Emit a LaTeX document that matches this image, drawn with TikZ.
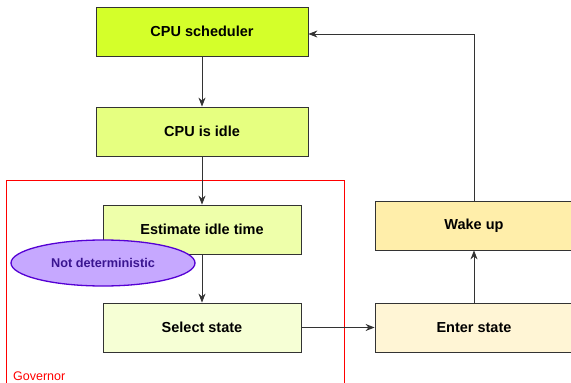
\documentclass[tikz,border=0pt]{standalone}
\usepackage{fontspec}
\setmainfont{Liberation Sans}
\usetikzlibrary{arrows.meta,shapes.geometric}
\definecolor{c1}{HTML}{D4FF2A}
\definecolor{c2}{HTML}{E6FF80}
\definecolor{c3}{HTML}{EEFFAA}
\definecolor{c4}{HTML}{F6FFD5}
\definecolor{c5}{HTML}{FFF5D5}
\definecolor{c6}{HTML}{FFEEAA}
\definecolor{ellfill}{HTML}{C6A8FF}
\definecolor{elldraw}{HTML}{5500D4}
\definecolor{elltext}{HTML}{3A1590}
\definecolor{govred}{HTML}{FF0000}
\definecolor{edge}{HTML}{333333}
\tikzset{
  box/.style={draw=edge, line width=0.8pt, minimum height=49pt, inner sep=0pt,
    font=\fontsize{14.5}{17}\selectfont\bfseries, text=black},
  conn/.style={draw=black!80, line width=0.9pt, -{Stealth[length=9pt,width=7pt]}},
}
\begin{document}
\begin{tikzpicture}[x=1pt,y=-1pt]
\useasboundingbox (0,0) rectangle (571,383);
\fill[white] (0,0) rectangle (571,383);
% governor frame
\draw[govred, line width=0.8pt] (6,395) -- (6,180) -- (344,180) -- (344,395);
\node[anchor=west, text=govred, font=\fontsize{12.5}{14}\selectfont, inner sep=0pt] (gov) at (13,376) {Governor};
% boxes
\node[box, fill=c1, minimum width=212pt] (sched) at (202,31.5) {CPU scheduler};
\node[box, fill=c2, minimum width=212pt] (idle) at (202,131.5) {CPU is idle};
\node[box, fill=c3, minimum width=198pt] (est) at (202,229.5) {Estimate idle time};
\node[box, fill=c4, minimum width=198pt] (sel) at (202,327.5) {Select state};
\node[box, fill=c5, minimum width=198pt] (enter) at (474,327.5) {Enter state};
\node[box, fill=c6, minimum width=198pt] (wake) at (474,225.5) {Wake up};
% ellipse
\node[ellipse, draw=elldraw, line width=1.3pt, fill=ellfill, minimum width=184pt, minimum height=46pt, inner sep=0pt,
  text=elltext, font=\fontsize{12.7}{15}\selectfont\bfseries] (nd) at (103,263) {Not deterministic};
% connectors
\draw[conn] (sched) -- (idle);
\draw[conn] (idle) -- (est);
\draw[conn] (est.south) -- (sel.north);
\draw[conn] (sel) -- (enter);
\draw[conn] (enter) -- (wake);
\draw[conn] (wake.north) |- ([yshift=-2.5pt]sched.east);
\end{tikzpicture}
\end{document}
